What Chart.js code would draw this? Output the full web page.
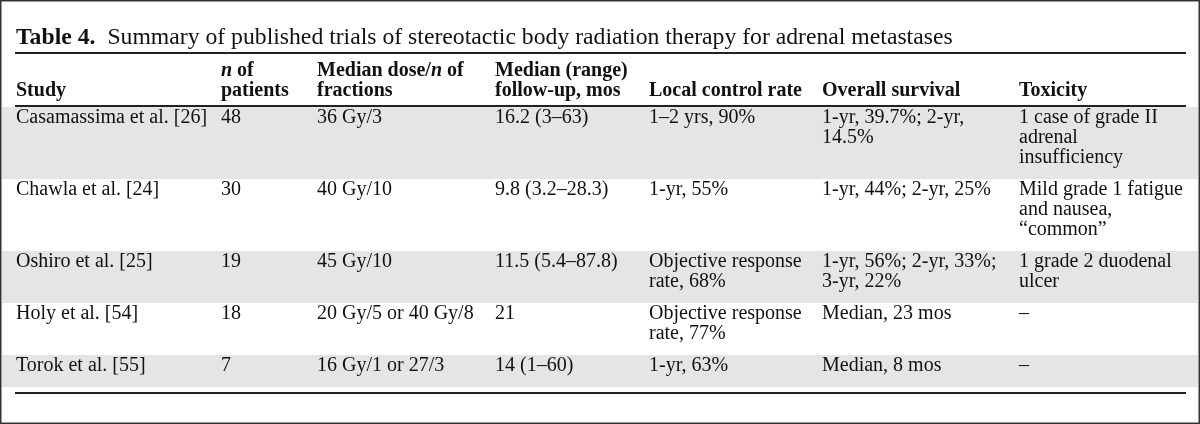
<!DOCTYPE html>
<html>
<head>
<meta charset="utf-8">
<title>Table 4</title>
<script src="https://cdn.jsdelivr.net/npm/chart.js@4.4.1/dist/chart.umd.min.js"></script>
<style>
    html, body { margin: 0; padding: 0; background: #fff; }
    #wrap { width: 1200px; height: 424px; position: relative; }
</style>
</head>
<body>
<div id="wrap"><canvas id="myChart"></canvas></div>
<script>
// table data
const titleLabel = 'Table 4.';
const titleText = 'Summary of published trials of stereotactic body radiation therapy for adrenal metastases';
// *...* marks italic parts, \n marks a line break
const columnHeaders = ['Study', '*n* of\npatients', 'Median dose/*n* of\nfractions', 'Median (range)\nfollow-up, mos', 'Local control rate', 'Overall survival', 'Toxicity'];
const studies = ['Casamassima et al. [26]', 'Chawla et al. [24]', 'Oshiro et al. [25]', 'Holy et al. [54]', 'Torok et al. [55]'];
const patients = [48, 30, 19, 18, 7];
const doses = ['36 Gy/3', '40 Gy/10', '45 Gy/10', '20 Gy/5 or 40 Gy/8', '16 Gy/1 or 27/3'];
const followUps = ['16.2 (3–63)', '9.8 (3.2–28.3)', '11.5 (5.4–87.8)', '21', '14 (1–60)'];
const localControl = ['1–2 yrs, 90%', '1-yr, 55%', 'Objective response\nrate, 68%', 'Objective response\nrate, 77%', '1-yr, 63%'];
const survival = ['1-yr, 39.7%; 2-yr,\n14.5%', '1-yr, 44%; 2-yr, 25%', '1-yr, 56%; 2-yr, 33%;\n3-yr, 22%', 'Median, 23 mos', 'Median, 8 mos'];
const toxicity = ['1 case of grade II\nadrenal\ninsufficiency', 'Mild grade 1 fatigue\nand nausea,\n“common”', '1 grade 2 duodenal\nulcer', '–', '–'];
const shadedRows = [true, false, true, false, true];

// layout (in scale units = pixels of the 1200x424 picture)
const FONT = '"Liberation Serif", "Times New Roman", "DejaVu Serif", serif';
const colX = [16, 221, 317, 495, 649, 822, 1019];
const ruleLeft = 15, ruleRight = 1186;
const lineH = 20;
const rowPad = 12;
const firstRowTop = 107;

const columns = [studies, patients.map(String), doses, followUps, localControl, survival, toxicity];

function drawRich(c, text, x, y, weight) {
    // draw text with *italic* parts
    const parts = text.split('*');
    let cx = x;
    parts.forEach((p, i) => {
        if (!p) return;
        c.font = (i % 2 ? 'italic ' : '') + weight + ' 20px ' + FONT;
        c.fillText(p, cx, y);
        cx += c.measureText(p).width;
    });
}

const tablePlugin = {
    id: 'tableDraw',
    beforeDatasetsDraw(chart) {
        const c = chart.ctx;
        const xs = chart.scales.x;
        const ys = chart.scales.y;
        const px = v => xs.getPixelForValue(v);
        const py = v => ys.getPixelForValue(v);

        c.save();
        c.fillStyle = '#fff';
        c.fillRect(px(0), py(0), px(1200) - px(0), py(424) - py(0));

        // row shading
        let top = firstRowTop;
        const rowTops = [];
        studies.forEach((s, r) => {
            const nLines = Math.max(...columns.map(col => String(col[r]).split('\n').length));
            const h = rowPad + nLines * lineH;
            rowTops.push(top);
            if (shadedRows[r]) {
                c.fillStyle = '#e5e5e5';
                c.fillRect(px(2), py(top), px(1198) - px(2), py(top + h) - py(top));
            }
            top += h;
        });
        const tableBottom = top;

        // rules
        c.strokeStyle = '#222';
        c.lineWidth = 2;
        [53, 106, tableBottom + 6].forEach(y => {
            c.beginPath();
            c.moveTo(px(ruleLeft), py(y));
            c.lineTo(px(ruleRight), py(y));
            c.stroke();
        });

        // outer frame
        c.strokeStyle = '#333';
        c.lineWidth = 1.5;
        c.strokeRect(px(0.75), py(0.75), px(1199.25) - px(0.75), py(423.25) - py(0.75));

        // title
        c.fillStyle = '#111';
        c.textBaseline = 'alphabetic';
        c.font = 'bold 23.7px ' + FONT;
        c.fillText(titleLabel, px(16), py(44));
        const w = c.measureText(titleLabel).width;
        c.font = '23.7px ' + FONT;
        c.fillText(titleText, px(16) + w + 12, py(44));

        // header, bottom aligned
        columnHeaders.forEach((hdr, i) => {
            const lines = hdr.split('\n');
            lines.forEach((ln, k) => {
                const y = 96 - (lines.length - 1 - k) * lineH;
                drawRich(c, ln, px(colX[i]), py(y), 'bold');
            });
        });

        // body cells
        columns.forEach((col, i) => {
            col.forEach((val, r) => {
                String(val).split('\n').forEach((ln, k) => {
                    drawRich(c, ln, px(colX[i]), py(rowTops[r] + 15.5 + k * lineH), 'normal');
                });
            });
        });
        c.restore();
    }
};

document.addEventListener('DOMContentLoaded', function() {
    const ctx = document.getElementById('myChart').getContext('2d');
    new Chart(ctx, {
        type: 'scatter',
        data: { datasets: [{ data: [] }] },
        options: {
            responsive: true,
            maintainAspectRatio: false,
            animation: false,
            devicePixelRatio: 1,
            layout: { padding: 0 },
            plugins: { legend: { display: false }, tooltip: { enabled: false } },
            scales: {
                x: { type: 'linear', min: 0, max: 1200, display: false },
                y: { type: 'linear', min: 0, max: 424, reverse: true, display: false }
            }
        },
        plugins: [tablePlugin]
    });
});
</script>
</body>
</html>
